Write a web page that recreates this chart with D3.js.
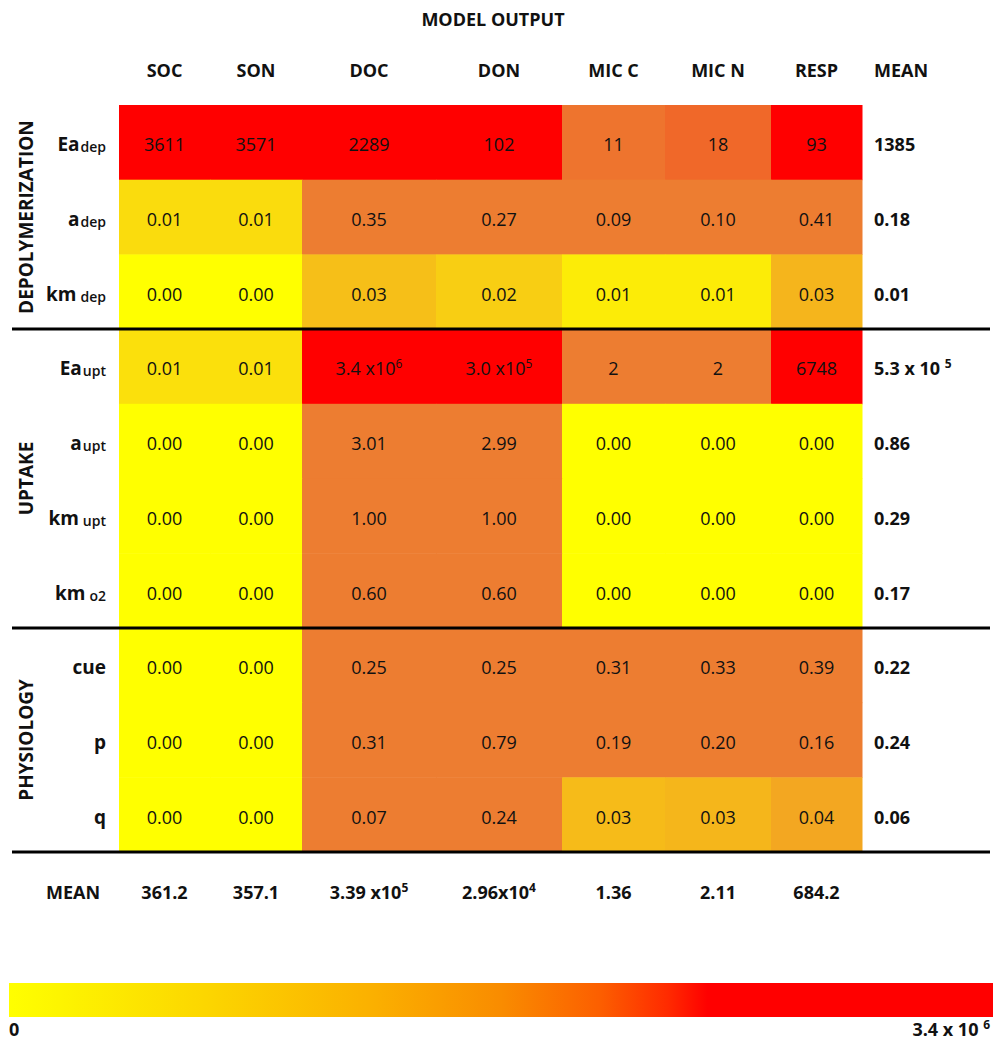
<!DOCTYPE html>
<meta charset="utf-8">
<style>
  body { margin: 0; background: #fff; }
  svg { display: block; }
  text { font-family: "Open Sans", sans-serif; fill: #111; }
  .head { font-size: 18px; font-weight: 700; }
  .cell { font-size: 18px; text-anchor: middle; }
  .mean { font-size: 18px; font-weight: 700; }
</style>
<body>
<svg width="1003" height="1042"></svg>
<script src="https://d3js.org/d3.v7.min.js"></script>
<script>
const title = "MODEL OUTPUT";
const columns = ["SOC", "SON", "DOC", "DON", "MIC C", "MIC N", "RESP"];
const paramBase = ["Ea", "a", "km", "Ea", "a", "km", "km", "cue", "p", "q"];
const paramSub = ["dep", "dep", "dep", "upt", "upt", "upt", "o2", "", "", ""];
const groupNames = ["DEPOLYMERIZATION", "UPTAKE", "PHYSIOLOGY"];
const groupSizes = [3, 4, 3];

// cell labels as printed ("^" marks a superscript)
const cellText = [
  ["3611", "3571", "2289", "102", "11", "18", "93"],
  ["0.01", "0.01", "0.35", "0.27", "0.09", "0.10", "0.41"],
  ["0.00", "0.00", "0.03", "0.02", "0.01", "0.01", "0.03"],
  ["0.01", "0.01", "3.4 x10^6", "3.0 x10^5", "2", "2", "6748"],
  ["0.00", "0.00", "3.01", "2.99", "0.00", "0.00", "0.00"],
  ["0.00", "0.00", "1.00", "1.00", "0.00", "0.00", "0.00"],
  ["0.00", "0.00", "0.60", "0.60", "0.00", "0.00", "0.00"],
  ["0.00", "0.00", "0.25", "0.25", "0.31", "0.33", "0.39"],
  ["0.00", "0.00", "0.31", "0.79", "0.19", "0.20", "0.16"],
  ["0.00", "0.00", "0.07", "0.24", "0.03", "0.03", "0.04"]
];

// shade level of each cell: 0 = yellow, 1 = orange, 2 = red
const shade = [
  [2, 2, 2, 2, 1.07, 1.17, 2],
  [0.27, 0.27, 1, 1, 1, 1, 1],
  [0, 0, 0.49, 0.38, 0.15, 0.15, 0.57],
  [0.24, 0.24, 2, 2, 1, 1, 2],
  [0, 0, 1, 1, 0, 0, 0],
  [0, 0, 1, 1, 0, 0, 0],
  [0, 0, 1, 1, 0, 0, 0],
  [0, 0, 1, 1, 1, 1, 1],
  [0, 0, 1, 1, 1, 1, 1],
  [0, 0, 1, 1, 0.52, 0.56, 0.68]
];

const rowMeans = ["1385", "0.18", "0.01", "5.3 x 10 ^5", "0.86", "0.29", "0.17", "0.22", "0.24", "0.06"];
const colMeans = ["361.2", "357.1", "3.39 x10^5", "2.96x10^4", "1.36", "2.11", "684.2"];
const legendLabels = ["0", "3.4 x 10 ^6"];

// layout
const colWidths = [91, 92, 134, 126, 103, 106, 91];
const gridLeft = 119, gridTop = 105, rowH = 74.7;

const svg = d3.select("svg");

const colEdges = [gridLeft, ...d3.cumsum(colWidths).map(d => gridLeft + d)];
const x = i => colEdges[i];
const xc = i => (colEdges[i] + colEdges[i + 1]) / 2;
const y = d3.scaleLinear().domain([0, paramBase.length]).range([gridTop, gridTop + rowH * paramBase.length]);
const yc = i => y(i + 0.5);

const color = d3.scaleLinear().domain([0, 1, 2]).range(["#ffff00", "#ed7d31", "#ff0000"]);

function sup(sel, str, supSize) {
  const parts = str.split("^");
  sel.append("tspan").text(parts[0]);
  if (parts[1]) sel.append("tspan").attr("dy", -7).attr("font-size", supSize).text(parts[1]);
}

svg.append("text").attr("class", "head")
  .attr("x", 493).attr("y", 26).attr("text-anchor", "middle").text(title);

svg.append("g").selectAll("text")
  .data(columns).join("text")
  .attr("class", "head").attr("text-anchor", "middle")
  .attr("x", (d, i) => xc(i)).attr("y", 77).text(d => d);

svg.append("text").attr("class", "head")
  .attr("x", 874).attr("y", 77).text("MEAN");

// cells
const cells = [];
shade.forEach((row, r) => row.forEach((v, c) => cells.push({ r, c, v, t: cellText[r][c] })));

svg.append("g").selectAll("rect")
  .data(cells).join("rect")
  .attr("x", d => x(d.c)).attr("y", d => y(d.r))
  .attr("width", d => x(d.c + 1) - x(d.c) + 0.5)
  .attr("height", rowH + 0.5)
  .attr("fill", d => color(d.v));

svg.append("g").selectAll("text")
  .data(cells).join("text")
  .attr("class", "cell")
  .attr("x", d => xc(d.c)).attr("y", d => yc(d.r) + 9)
  .each(function(d) { sup(d3.select(this), d.t, 12); });

// row labels
const rowLab = svg.append("g").selectAll("text")
  .data(paramBase).join("text")
  .attr("text-anchor", "end")
  .attr("x", 106).attr("y", (d, i) => yc(i) + 9);
rowLab.append("tspan").attr("font-size", 19).attr("font-weight", 700).text(d => d);
rowLab.append("tspan").attr("font-size", 14).attr("font-weight", 600)
  .attr("dx", (d, i) => d === "km" ? 4 : 1).attr("dy", 1)
  .text((d, i) => paramSub[i]);

// group labels and separators
const groupStart = [0, ...d3.cumsum(groupSizes)];
svg.append("g").selectAll("text")
  .data(groupNames).join("text")
  .attr("class", "head").attr("text-anchor", "middle")
  .style("font-size", "19px")
  .attr("transform", (d, i) => `translate(33,${(y(groupStart[i]) + y(groupStart[i + 1])) / 2}) rotate(-90)`)
  .text(d => d);

svg.append("g").selectAll("line")
  .data(groupStart.slice(1)).join("line")
  .attr("x1", 12).attr("x2", 990)
  .attr("y1", d => y(d)).attr("y2", d => y(d))
  .attr("stroke", "#000").attr("stroke-width", 3);

// means
svg.append("g").selectAll("text")
  .data(rowMeans).join("text")
  .attr("class", "mean")
  .attr("x", 874).attr("y", (d, i) => yc(i) + 9)
  .each(function(d) { sup(d3.select(this), d, 12); });

svg.append("text").attr("class", "mean")
  .attr("x", 73).attr("y", 899).attr("text-anchor", "middle").text("MEAN");

svg.append("g").selectAll("text")
  .data(colMeans).join("text")
  .attr("class", "mean").attr("text-anchor", "middle")
  .attr("x", (d, i) => xc(i)).attr("y", 899)
  .each(function(d) { sup(d3.select(this), d, 12); });

// colour bar
const grad = svg.append("defs").append("linearGradient").attr("id", "bar");
[[0, "#ffff00"], [0.05, "#fdf500"], [0.2, "#fcd600"], [0.37, "#fbb000"],
 [0.5, "#f98c00"], [0.6, "#fc5f00"], [0.67, "#ff2a00"], [0.71, "#ff0000"], [1, "#ff0000"]]
  .forEach(s => grad.append("stop").attr("offset", s[0]).attr("stop-color", s[1]));

svg.append("rect").attr("x", 9).attr("y", 983).attr("width", 984).attr("height", 34)
  .attr("fill", "url(#bar)");

svg.append("text").attr("class", "mean").attr("x", 9).attr("y", 1036).text(legendLabels[0]);
svg.append("text").attr("class", "mean").attr("x", 990).attr("y", 1036)
  .attr("text-anchor", "end")
  .each(function() { sup(d3.select(this), legendLabels[1], 12); });
</script>
</body>
